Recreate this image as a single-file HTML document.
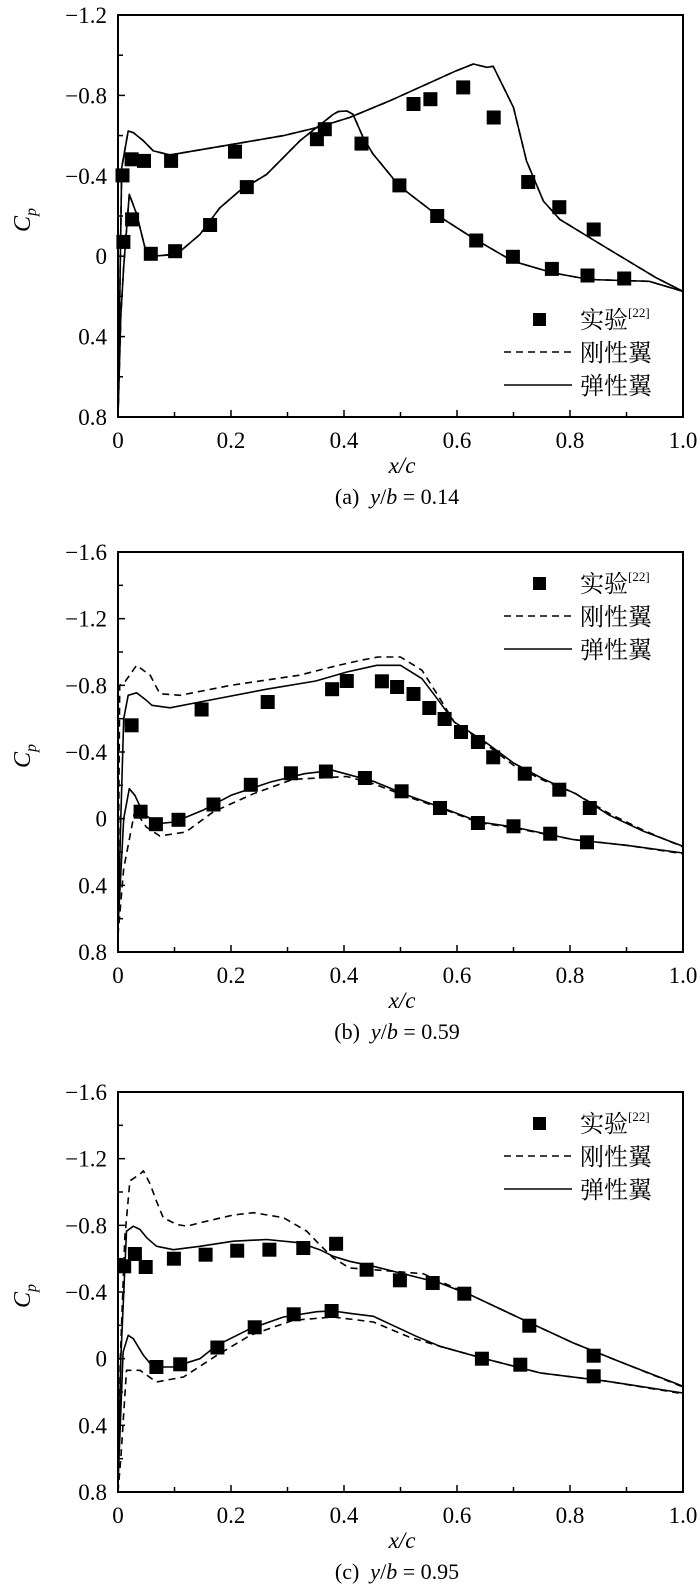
<!DOCTYPE html>
<html><head><meta charset="utf-8">
<style>
html,body{margin:0;padding:0;background:#fff;}
svg{display:block;}
text{font-family:"Liberation Serif","Noto Serif CJK SC",serif;fill:#000;}
.cjk{font-family:"Liberation Serif","Noto Serif CJK SC","Noto Sans CJK SC",serif;}
</style></head>
<body>
<svg id="fig" xmlns="http://www.w3.org/2000/svg" width="700" height="1585" viewBox="0 0 700 1585"></svg>
<script>
// ---------- Panel (a) y/b = 0.14 ----------
const aElasticUpperX=[0,0.0065,0.018,0.027,0.045,0.0625,0.092,0.204,0.293,0.352,0.41,0.481,0.599,0.629,0.653,0.664,0.70,0.723,0.753,0.782,0.865,0.953,1.0];
const aElasticUpperCp=[0.8,-0.44,-0.623,-0.615,-0.574,-0.524,-0.504,-0.557,-0.6,-0.64,-0.69,-0.773,-0.923,-0.956,-0.94,-0.945,-0.74,-0.474,-0.274,-0.183,-0.041,0.108,0.175];
const aElasticLowerX=[0,0.005,0.01,0.02,0.033,0.048,0.062,0.104,0.145,0.18,0.215,0.263,0.322,0.381,0.39,0.405,0.416,0.434,0.451,0.498,0.563,0.628,0.699,0.77,0.834,0.94,1.0];
const aElasticLowerCp=[0.8,0.3,0.05,-0.308,-0.21,-0.04,0.0,-0.01,-0.108,-0.24,-0.325,-0.407,-0.574,-0.706,-0.72,-0.723,-0.706,-0.59,-0.51,-0.349,-0.208,-0.091,0.025,0.083,0.116,0.125,0.175];
const aRigidUpperX=aElasticUpperX, aRigidUpperCp=aElasticUpperCp;
const aRigidLowerX=aElasticLowerX, aRigidLowerCp=aElasticLowerCp;
const aExpX=[0.008,0.024,0.046,0.094,0.207,0.523,0.553,0.611,0.665,0.726,0.781,0.842,0.0095,0.025,0.058,0.101,0.163,0.228,0.352,0.366,0.431,0.498,0.565,0.634,0.699,0.768,0.831,0.896];
const aExpCp=[-0.402,-0.482,-0.474,-0.474,-0.52,-0.757,-0.781,-0.84,-0.69,-0.369,-0.244,-0.133,-0.071,-0.183,-0.012,-0.025,-0.155,-0.344,-0.582,-0.632,-0.56,-0.352,-0.2,-0.078,0.003,0.063,0.096,0.111];
const aYTicks=[-1.2,-0.8,-0.4,0,0.4,0.8];
const aYTickLabels=["\u22121.2","\u22120.8","\u22120.4","0","0.4","0.8"];

// ---------- Panel (b) y/b = 0.59 ----------
const bElasticUpperX=[0,0.005,0.01,0.018,0.033,0.05,0.06,0.092,0.145,0.263,0.35,0.405,0.458,0.5,0.538,0.565,0.595,0.65,0.70,0.753,0.81,0.87,0.93,1.0];
const bElasticUpperCp=[0.65,0.0,-0.6,-0.74,-0.755,-0.71,-0.68,-0.665,-0.70,-0.777,-0.826,-0.88,-0.92,-0.92,-0.84,-0.72,-0.58,-0.46,-0.334,-0.238,-0.15,-0.02,0.076,0.166];
const bRigidUpperX=[0,0.003,0.012,0.033,0.057,0.074,0.11,0.2,0.32,0.39,0.43,0.46,0.5,0.538,0.57,0.595,0.65,0.70,0.753,0.81,0.87,0.93,1.0];
const bRigidUpperCp=[0.6,-0.8,-0.82,-0.92,-0.86,-0.75,-0.74,-0.8,-0.86,-0.92,-0.95,-0.97,-0.97,-0.89,-0.72,-0.58,-0.45,-0.32,-0.23,-0.15,-0.03,0.07,0.17];
const bElasticLowerX=[0,0.01,0.02,0.03,0.045,0.07,0.1,0.15,0.2,0.27,0.33,0.38,0.393,0.452,0.51,0.57,0.64,0.70,0.805,0.9,1.0];
const bElasticLowerCp=[0.65,0.0,-0.18,-0.14,-0.03,0.03,0.02,-0.05,-0.14,-0.22,-0.27,-0.29,-0.278,-0.224,-0.144,-0.07,0.02,0.05,0.125,0.16,0.206];
const bRigidLowerX=[0,0.01,0.03,0.05,0.074,0.12,0.169,0.24,0.31,0.405,0.452,0.51,0.57,0.64,0.70,0.805,0.9,1.0];
const bRigidLowerCp=[0.7,0.3,-0.05,0.05,0.104,0.08,-0.042,-0.15,-0.236,-0.253,-0.21,-0.135,-0.065,0.025,0.055,0.125,0.16,0.21];
const bExpX=[0.024,0.148,0.265,0.379,0.405,0.467,0.494,0.523,0.551,0.578,0.607,0.637,0.664,0.72,0.781,0.835,0.04,0.067,0.107,0.169,0.235,0.306,0.368,0.437,0.502,0.57,0.637,0.70,0.765,0.83];
const bExpCp=[-0.56,-0.655,-0.70,-0.777,-0.826,-0.824,-0.79,-0.748,-0.664,-0.598,-0.52,-0.46,-0.368,-0.27,-0.174,-0.064,-0.042,0.033,0.007,-0.085,-0.203,-0.272,-0.283,-0.244,-0.164,-0.064,0.026,0.046,0.09,0.142];
const bYTicks=[-1.6,-1.2,-0.8,-0.4,0,0.4,0.8];
const bYTickLabels=["\u22121.6","\u22121.2","\u22120.8","\u22120.4","0","0.4","0.8"];

// ---------- Panel (c) y/b = 0.95 ----------
const cElasticUpperX=[0,0.005,0.015,0.027,0.039,0.051,0.068,0.098,0.145,0.204,0.263,0.322,0.357,0.381,0.41,0.452,0.57,0.629,0.717,0.806,0.894,1.0];
const cElasticUpperCp=[0.75,0.0,-0.765,-0.795,-0.775,-0.725,-0.675,-0.654,-0.674,-0.705,-0.715,-0.695,-0.654,-0.614,-0.584,-0.554,-0.454,-0.374,-0.234,-0.094,0.026,0.166];
const cRigidUpperX=[0,0.004,0.012,0.021,0.039,0.045,0.057,0.068,0.08,0.104,0.122,0.145,0.204,0.24,0.293,0.334,0.357,0.381,0.41,0.452,0.54,0.629,0.717,0.806,0.894,1.0];
const cRigidUpperCp=[0.8,0.0,-0.725,-1.067,-1.107,-1.127,-1.047,-0.946,-0.846,-0.805,-0.795,-0.815,-0.862,-0.876,-0.846,-0.765,-0.684,-0.604,-0.544,-0.534,-0.51,-0.374,-0.234,-0.094,0.026,0.17];
const cElasticLowerX=[0,0.004,0.009,0.018,0.027,0.045,0.062,0.098,0.145,0.175,0.234,0.293,0.352,0.381,0.41,0.452,0.528,0.57,0.644,0.748,0.866,1.0];
const cElasticLowerCp=[0.75,0.4,-0.04,-0.14,-0.12,-0.02,0.05,0.05,0.0,-0.08,-0.18,-0.25,-0.282,-0.286,-0.272,-0.254,-0.134,-0.074,-0.004,0.086,0.136,0.206];
const cRigidLowerX=[0,0.005,0.015,0.039,0.068,0.116,0.175,0.234,0.31,0.381,0.452,0.515,0.57,0.644,0.748,0.866,1.0];
const cRigidLowerCp=[0.8,0.6,0.07,0.07,0.14,0.11,-0.02,-0.14,-0.23,-0.25,-0.22,-0.13,-0.074,-0.004,0.086,0.136,0.21];
const cExpX=[0.011,0.03,0.049,0.099,0.155,0.211,0.268,0.328,0.386,0.44,0.499,0.557,0.613,0.728,0.842,0.068,0.11,0.176,0.242,0.311,0.378,0.644,0.712,0.842];
const cExpCp=[-0.554,-0.628,-0.55,-0.6,-0.624,-0.648,-0.654,-0.664,-0.689,-0.534,-0.47,-0.454,-0.39,-0.198,-0.018,0.05,0.034,-0.067,-0.188,-0.266,-0.286,0.0,0.036,0.106];
const cYTicks=bYTicks, cYTickLabels=bYTickLabels;

const xTicks=[0,0.2,0.4,0.6,0.8,1.0];
const xTickLabels=["0","0.2","0.4","0.6","0.8","1.0"];

const NS="http://www.w3.org/2000/svg";
const svg=document.getElementById('fig');
function mk(tag,parent){const e=document.createElementNS(NS,tag);parent.appendChild(e);return e;}

function panel(id,top,bottom,yMin,yMax,yTicks,yLabels,series,expX,expCp,legendY,caption,captionVal){
  const L=118,R=683;
  const g=mk('g',svg);
  
  
  const sx=v=>L+(R-L)*v;
  const sy=v=>top+(bottom-top)*(v-yMin)/(yMax-yMin);
  // series lines
  series.forEach(s=>{
    const p=mk('polyline',g);
    
    
    p.setAttribute('points',s.x.map((x,i)=>sx(x).toFixed(1)+','+sy(s.y[i]).toFixed(1)).join(' '));
    p.setAttribute('fill','none');p.setAttribute('stroke','#000');p.setAttribute('stroke-width','1.6');
    p.setAttribute('stroke-linejoin','round');
    if(s.dash)p.setAttribute('stroke-dasharray','7,5');
  });
  // experimental squares
  expX.forEach((x,i)=>{
    const r=mk('rect',g);
    
    
    r.setAttribute('x',(sx(x)-7).toFixed(1));r.setAttribute('y',(sy(expCp[i])-7).toFixed(1));
    r.setAttribute('width','14');r.setAttribute('height','14');r.setAttribute('fill','#000');
  });
  // frame
  const f=mk('rect',g);
  
  
  f.setAttribute('x',L);f.setAttribute('y',top);f.setAttribute('width',R-L);f.setAttribute('height',bottom-top);
  f.setAttribute('fill','none');f.setAttribute('stroke','#000');f.setAttribute('stroke-width','2');
  // y ticks (major + minor)
  for(let k=0;k<yTicks.length;k++){
    const y=sy(yTicks[k]);
    const t=mk('line',g);
    
    
    t.setAttribute('x1',L);t.setAttribute('x2',L+7);t.setAttribute('y1',y);t.setAttribute('y2',y);t.setAttribute('stroke','#000');t.setAttribute('stroke-width','1.5');
    if(k<yTicks.length-1){
      const ym=sy((yTicks[k]+yTicks[k+1])/2);
      const m=mk('line',g);
      
      
      m.setAttribute('x1',L);m.setAttribute('x2',L+5);m.setAttribute('y1',ym);m.setAttribute('y2',ym);m.setAttribute('stroke','#000');m.setAttribute('stroke-width','1.5');
    }
    const tx=mk('text',g);
    
    
    tx.setAttribute('x',107);tx.setAttribute('y',y+8);tx.setAttribute('text-anchor','end');tx.setAttribute('font-size','23');
    tx.textContent=yLabels[k];
  }
  // x ticks
  for(let k=0;k<xTicks.length;k++){
    const x=sx(xTicks[k]);
    const t=mk('line',g);
    
    
    t.setAttribute('x1',x);t.setAttribute('x2',x);t.setAttribute('y1',bottom);t.setAttribute('y2',bottom-7);t.setAttribute('stroke','#000');t.setAttribute('stroke-width','1.5');
    if(k<xTicks.length-1){
      const xm=sx((xTicks[k]+xTicks[k+1])/2);
      const m=mk('line',g);
      
      
      m.setAttribute('x1',xm);m.setAttribute('x2',xm);m.setAttribute('y1',bottom);m.setAttribute('y2',bottom-5);m.setAttribute('stroke','#000');m.setAttribute('stroke-width','1.5');
    }
    const tx=mk('text',g);
    
    
    tx.setAttribute('x',x);tx.setAttribute('y',bottom+31);tx.setAttribute('text-anchor','middle');tx.setAttribute('font-size','23');
    tx.textContent=xTickLabels[k];
  }
  // y-axis title
  const yt=mk('text',g);
  
  
  const cy=(top+bottom)/2+4;
  yt.setAttribute('transform','translate(30,'+cy+') rotate(-90)');
  yt.setAttribute('text-anchor','middle');yt.setAttribute('font-size','24');
  yt.innerHTML='<tspan font-style="italic">C</tspan><tspan font-style="italic" font-size="16" dy="6">p</tspan>';
  // x-axis title
  const xt=mk('text',g);
  
  
  xt.setAttribute('x',402);xt.setAttribute('y',bottom+56);xt.setAttribute('text-anchor','middle');xt.setAttribute('font-size','23');xt.setAttribute('font-style','italic');
  xt.textContent='x/c';
  // caption
  const cap=mk('text',g);
  
  
  cap.setAttribute('x',397);cap.setAttribute('y',bottom+87);cap.setAttribute('text-anchor','middle');cap.setAttribute('font-size','22');
  cap.innerHTML='('+caption+')\u00a0 <tspan font-style="italic">y</tspan>/<tspan font-style="italic">b</tspan> = '+captionVal;
  // legend
  const lg=mk('g',g);
  
  
  const sq=mk('rect',lg);
  
  
  sq.setAttribute('x',533);sq.setAttribute('y',legendY-6);sq.setAttribute('width','13');sq.setAttribute('height','13');sq.setAttribute('fill','#000');
  const t1=mk('text',lg);
  
  
  t1.setAttribute('class','cjk');t1.setAttribute('x',580);t1.setAttribute('y',legendY+9);t1.setAttribute('font-size','24');
  t1.innerHTML='实验<tspan font-size="13" dy="-11">[22]</tspan>';
  const l2=mk('line',lg);
  
  
  l2.setAttribute('x1',504);l2.setAttribute('x2',572);l2.setAttribute('y1',legendY+33);l2.setAttribute('y2',legendY+33);l2.setAttribute('stroke','#000');l2.setAttribute('stroke-width','1.5');l2.setAttribute('stroke-dasharray','7,5');
  const t2=mk('text',lg);
  
  
  t2.setAttribute('class','cjk');t2.setAttribute('x',580);t2.setAttribute('y',legendY+42);t2.setAttribute('font-size','24');
  t2.textContent='刚性翼';
  const l3=mk('line',lg);
  
  
  l3.setAttribute('x1',504);l3.setAttribute('x2',572);l3.setAttribute('y1',legendY+66);l3.setAttribute('y2',legendY+66);l3.setAttribute('stroke','#000');l3.setAttribute('stroke-width','1.5');
  const t3=mk('text',lg);
  
  
  t3.setAttribute('class','cjk');t3.setAttribute('x',580);t3.setAttribute('y',legendY+75);t3.setAttribute('font-size','24');
  t3.textContent='弹性翼';
}

panel('a',15,417,-1.2,0.8,aYTicks,aYTickLabels,[
  {name:'rigid-upper-line',x:aRigidUpperX,y:aRigidUpperCp,dash:true},
  {name:'rigid-lower-line',x:aRigidLowerX,y:aRigidLowerCp,dash:true},
  {name:'elastic-upper-line',x:aElasticUpperX,y:aElasticUpperCp},
  {name:'elastic-lower-line',x:aElasticLowerX,y:aElasticLowerCp}
],aExpX,aExpCp,319,'a','0.14');

panel('b',552,952,-1.6,0.8,bYTicks,bYTickLabels,[
  {name:'rigid-upper-line',x:bRigidUpperX,y:bRigidUpperCp,dash:true},
  {name:'rigid-lower-line',x:bRigidLowerX,y:bRigidLowerCp,dash:true},
  {name:'elastic-upper-line',x:bElasticUpperX,y:bElasticUpperCp},
  {name:'elastic-lower-line',x:bElasticLowerX,y:bElasticLowerCp}
],bExpX,bExpCp,583,'b','0.59');

panel('c',1092,1492,-1.6,0.8,cYTicks,cYTickLabels,[
  {name:'rigid-upper-line',x:cRigidUpperX,y:cRigidUpperCp,dash:true},
  {name:'rigid-lower-line',x:cRigidLowerX,y:cRigidLowerCp,dash:true},
  {name:'elastic-upper-line',x:cElasticUpperX,y:cElasticUpperCp},
  {name:'elastic-lower-line',x:cElasticLowerX,y:cElasticLowerCp}
],cExpX,cExpCp,1123,'c','0.95');
</script>
</body></html>
